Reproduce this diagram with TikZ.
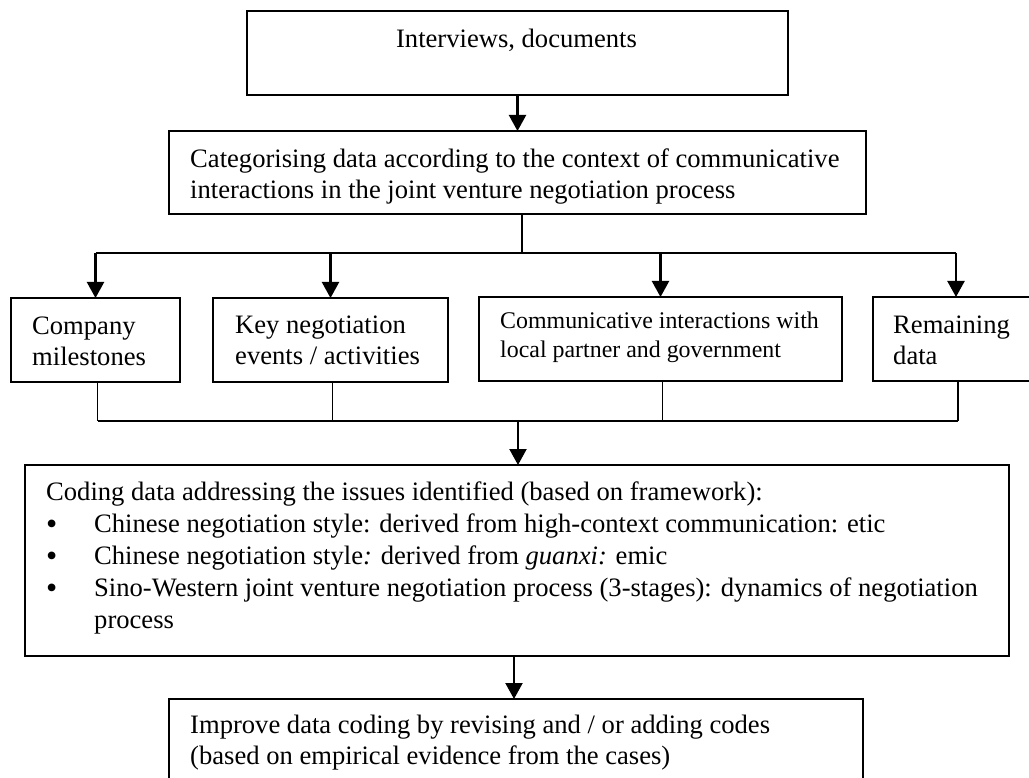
\documentclass[tikz,border=0pt]{standalone}
\usepackage{fontspec}
\setmainfont{Liberation Serif}
\usetikzlibrary{arrows.meta}
\newcommand{\bigbullet}{\makebox[48pt][l]{\smash{\raisebox{-2pt}{\fontsize{32}{31}\selectfont •}}}}
\begin{document}
\begin{tikzpicture}[x=1pt,y=-1pt,
  box/.style={draw, line width=1.8pt, inner sep=0pt, outer sep=0pt},
  txt/.style={anchor=north west, inner sep=0pt, align=left,
              font=\fontsize{26.6}{31}\selectfont},
  smalltxt/.style={anchor=north west, inner sep=0pt, align=left,
              font=\fontsize{23.9}{29}\selectfont},
  arr/.style={line width=2.2pt, -{Triangle[width=17pt,length=16pt]}},
  link/.style={line width=1.5pt}]
\useasboundingbox (0,0) rectangle (1029,778);
\clip (0,0) rectangle (1029,778);

% boxes
\node[box, minimum width=541pt, minimum height=84pt] (top)  at (517.5,53)    {};
\node[box, minimum width=697pt, minimum height=83pt] (cat)  at (517.5,172.5) {};
\node[box, minimum width=169pt, minimum height=84pt] (b1)   at (95.5,340)    {};
\node[box, minimum width=235pt, minimum height=84pt] (b2)   at (330.5,340)   {};
\node[box, minimum width=363pt, minimum height=84pt] (b3)   at (660.5,339)   {};
\node[box, minimum width=166pt, minimum height=84pt] (b4)   at (956,339)     {};
\node[box, minimum width=984pt, minimum height=191pt] (code) at (517,560.5)  {};
\node[box, minimum width=694pt, minimum height=83pt] (imp)  at (516,740.5)   {};

% texts (top of first line = baseline - 0.7 baselineskip)
\node[txt, anchor=north] (ttop) at (516.5,25.3) {\strut Interviews, documents};
\node[txt] (tcat) at (190,145.3) {\strut Categorising data according to the context of communicative\\
interactions in the joint venture negotiation process};
\node[txt] (tb1) at (32,312.3) {\strut Company\\ milestones};
\node[txt] (tb2) at (235,311.3) {\strut Key negotiation\\ events / activities};
\node[smalltxt] (tb3) at (500,307.7) {\strut Communicative interactions with\\ local partner and government};
\node[txt] (tb4) at (893,311.3) {\strut Remaining\\ data};
\node[txt, font=\fontsize{26.6}{32}\selectfont] (tcode) at (46,477.6) {\strut Coding data addressing the issues identified (based on framework):\\
\bigbullet Chinese negotiation style: derived from high-context communication: etic\\
\bigbullet Chinese negotiation style\textit{:} derived from \textit{guanxi:} emic\\
\bigbullet Sino-Western joint venture negotiation process (3-stages): dynamics of negotiation\\
\hspace*{48pt}process};
\node[txt] (timp) at (190,711.3) {\strut Improve data coding by revising and / or adding codes\\
(based on empirical evidence from the cases)};

% flow from sources to categorising
\draw[arr] (top.south) -- (cat.north);

% split into the four categories
\coordinate (split) at (522,253);
\draw[link] (split |- cat.south) -- (split);
\draw[link] (b1.north |- split) -- (b4.north |- split);
\foreach \b in {b1,b2,b3,b4}
  \draw[arr] (\b.north |- split) -- (\b.north);

% merge back into coding
\coordinate (join) at (518,421);
\foreach \b in {b1,b2,b3,b4}
  \draw[link] ([xshift=2pt]\b.south) -- ([xshift=2pt]\b.south |- join);
\draw[link] ([xshift=2pt]b1.south |- join) -- ([xshift=2pt]b4.south |- join);
\draw[arr] (join) -- (join |- code.north);

% coding to refinement
\draw[arr] ([xshift=-2pt]imp.north |- code.south) -- ([xshift=-2pt]imp.north);
\end{tikzpicture}
\end{document}
